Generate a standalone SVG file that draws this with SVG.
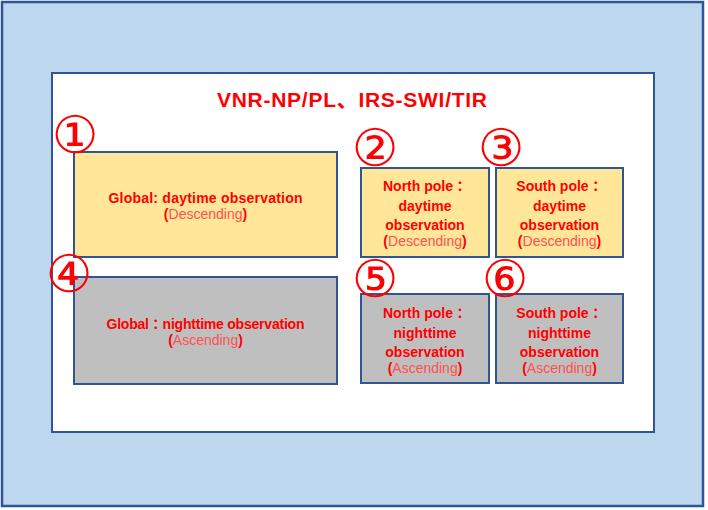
<svg xmlns="http://www.w3.org/2000/svg" width="708" height="510" viewBox="0 0 708 510">
<style>
.frame{fill:#BDD7EE;stroke:#2F5597;stroke-width:2.5}
.panel{fill:#FFFFFF;stroke:#2F5597;stroke-width:2}
.day{fill:#FFE699;stroke:#2F5597;stroke-width:2}
.night{fill:#BFBFBF;stroke:#2F5597;stroke-width:2}
.t{font-family:"Liberation Sans","Noto Sans CJK JP",sans-serif;font-weight:bold;font-size:14px;fill:#FF0000;text-anchor:middle}
.s{font-family:"Liberation Sans",sans-serif;font-size:14px;fill:#FF0000;text-anchor:middle}
.lt{font-weight:normal;fill:#FF5050}
.p{font-weight:bold;fill:#FF0000}
.num{font-family:"DejaVu Sans","Noto Sans CJK JP",sans-serif;font-size:52px;fill:#FF0000;text-anchor:middle}
.title{font-family:"Liberation Sans","Noto Sans CJK JP",sans-serif;font-weight:bold;font-size:21px;fill:#FF0000;text-anchor:middle}
</style>
<rect class="frame" x="2" y="2" width="701" height="504"/>
<rect class="panel" x="52" y="73" width="602" height="359"/>
<text class="title" x="352" y="107" textLength="270" lengthAdjust="spacing">VNR-NP/PL、IRS-SWI/TIR</text>
<g id="node1">
<rect class="day" x="74" y="152" width="263" height="105"/>
<text class="num" x="75" y="153">①</text>
<text class="t" x="205.5" y="203" textLength="194" lengthAdjust="spacing">Global: daytime observation</text>
<text class="s" x="205.5" y="219"><tspan class="p">(</tspan><tspan class="lt">Descending</tspan><tspan class="p">)</tspan></text>
</g>
<g id="node2">
<rect class="day" x="361" y="168" width="128" height="89"/>
<text class="num" x="375" y="166">②</text>
<text class="t" x="425" y="191">North pole：</text>
<text class="t" x="425" y="211">daytime</text>
<text class="t" x="425" y="230">observation</text>
<text class="s" x="425" y="246"><tspan class="p">(</tspan><tspan class="lt">Descending</tspan><tspan class="p">)</tspan></text>
</g>
<g id="node3">
<rect class="day" x="496" y="168" width="127" height="89"/>
<text class="num" x="501" y="166">③</text>
<text class="t" x="559.5" y="191">South pole：</text>
<text class="t" x="559.5" y="211">daytime</text>
<text class="t" x="559.5" y="230">observation</text>
<text class="s" x="559.5" y="246"><tspan class="p">(</tspan><tspan class="lt">Descending</tspan><tspan class="p">)</tspan></text>
</g>
<g id="node4">
<rect class="night" x="74" y="277" width="263" height="107"/>
<text class="num" x="69" y="292">④</text>
<text class="t" x="205.5" y="329" textLength="198" lengthAdjust="spacing">Global：nighttime observation</text>
<text class="s" x="205.5" y="345"><tspan class="p">(</tspan><tspan class="lt">Ascending</tspan><tspan class="p">)</tspan></text>
</g>
<g id="node5">
<rect class="night" x="361" y="294" width="128" height="89"/>
<text class="num" x="375" y="297">⑤</text>
<text class="t" x="425" y="318">North pole：</text>
<text class="t" x="425" y="338">nighttime</text>
<text class="t" x="425" y="357">observation</text>
<text class="s" x="425" y="373"><tspan class="p">(</tspan><tspan class="lt">Ascending</tspan><tspan class="p">)</tspan></text>
</g>
<g id="node6">
<rect class="night" x="496" y="294" width="127" height="89"/>
<text class="num" x="505" y="297">⑥</text>
<text class="t" x="559.5" y="318">South pole：</text>
<text class="t" x="559.5" y="338">nighttime</text>
<text class="t" x="559.5" y="357">observation</text>
<text class="s" x="559.5" y="373"><tspan class="p">(</tspan><tspan class="lt">Ascending</tspan><tspan class="p">)</tspan></text>
</g>
<g id="connectors"></g>
</svg>
